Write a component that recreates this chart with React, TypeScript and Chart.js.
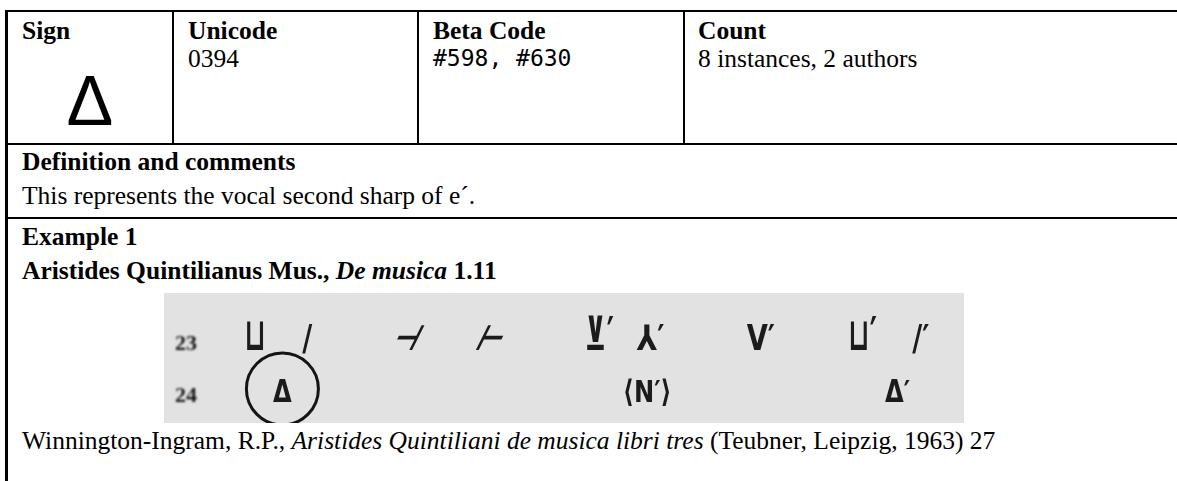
import React, { useEffect, useRef } from "react";
import { Chart, registerables } from "chart.js";

Chart.register(...registerables);

// ---------- document data ----------
const headerLabels = ["Sign", "Unicode", "Beta Code", "Count"];
const signGlyph = "Δ";
const unicodeValue = "0394";
const betaCodeValue = "#598, #630";
const countValue = "8 instances, 2 authors";
const definitionTitle = "Definition and comments";
const definitionText = "This represents the vocal second sharp of e´.";
const exampleTitle = "Example 1";
const sourceAuthor = "Aristides Quintilianus Mus., ";
const sourceWork = "De musica";
const sourcePassage = " 1.11";
const citationAuthor = "Winnington-Ingram, R.P., ";
const citationTitle = "Aristides Quintiliani de musica libri tres";
const citationRest = " (Teubner, Leipzig, 1963) 27";

// ---------- scanned example data (x: % of scan width, line: manuscript line) ----------
const scanLineNumbers = ["23", "24"];
const scanLineNumberX = [2.75, 2.75];
const scanGlyphs = ["⊔", "/", "⊣", "⊢", "⊻′", "⅄′", "V′", "⊔′", "/′", "Δ", "⟨N′⟩", "Δ′"];
const scanGlyphX = [11.4, 17.9, 29.75, 40.25, 54.4, 60.8, 74.6, 87.3, 94.6, 14.8, 60.4, 91.7];
const scanGlyphLine = [23, 23, 23, 23, 23, 23, 23, 23, 23, 24, 24, 24];
const scanCircleX = [14.8];
const scanCircleLine = [23.75];

const slanted = new Set(["⊣", "⊢"]);
const tall = new Set(["⊔", "⊔′", "⊻′"]);

const SERIF = "'Liberation Serif', 'Times New Roman', serif";
const SANS = "'Liberation Sans', Arial, sans-serif";
const MONO = "'DejaVu Sans Mono', monospace";
const FS = 25.5;

type TProps = {
  x: number;
  baseline: number;
  size?: number;
  family?: string;
  asc?: number;
  bold?: boolean;
  children: React.ReactNode;
  width?: number;
  center?: boolean;
};

function T({ x, baseline, size = FS, family = SERIF, asc = 0.8375, bold, children, width, center }: TProps) {
  return (
    <div
      style={{
        position: "absolute",
        left: x,
        top: baseline - asc * size,
        fontSize: size,
        lineHeight: `${size}px`,
        fontFamily: family,
        fontWeight: bold ? 700 : 400,
        whiteSpace: "nowrap",
        width: width,
        textAlign: center ? "center" : "left",
        color: "#000",
      }}
    >
      {children}
    </div>
  );
}

function Rule({ x, y, w, h }: { x: number; y: number; w: number; h: number }) {
  return <div style={{ position: "absolute", left: x, top: y, width: w, height: h, background: "#000" }} />;
}

function ScanChart() {
  const ref = useRef<HTMLCanvasElement | null>(null);
  useEffect(() => {
    if (!ref.current) return;
    const glyphPoints = scanGlyphs.map((g, i) => ({ x: scanGlyphX[i], y: scanGlyphLine[i], label: g }));
    const numberPoints = scanLineNumbers.map((n, i) => ({ x: scanLineNumberX[i], y: Number(n), label: n }));
    const circlePoints = scanCircleX.map((x, i) => ({ x, y: scanCircleLine[i] }));

    const textPlugin = {
      id: "scanText",
      beforeDraw(chart: any) {
        const { ctx, width, height } = chart;
        ctx.save();
        ctx.fillStyle = "#e2e2e2";
        ctx.fillRect(0, 0, width, height);
        ctx.restore();
      },
      afterDatasetsDraw(chart: any) {
        const ctx = chart.ctx;
        [0, 1].forEach((di) => {
          const meta = chart.getDatasetMeta(di);
          const ds = chart.data.datasets[di];
          meta.data.forEach((el: any, i: number) => {
            const p = ds.data[i];
            ctx.save();
            ctx.filter = "blur(0.7px)";
            ctx.textAlign = "center";
            ctx.textBaseline = "alphabetic";
            ctx.translate(el.x, el.y);
            if (di === 0) {
              ctx.fillStyle = "#1b1b1b";
              ctx.font = p.y === 24 ? "bold 31px 'DejaVu Sans'" : "bold 35px 'DejaVu Sans'";
              if (slanted.has(p.label)) ctx.transform(1, 0, -0.5, 1, 0, 0);
              ctx.scale(0.78, tall.has(p.label) ? 1.3 : 1);
            } else {
              ctx.fillStyle = "#151515";
              ctx.filter = "blur(0.9px)";
              ctx.font = "bold 22px 'Liberation Serif'";
            }
            ctx.fillText(p.label, 0, 0);
            ctx.restore();
          });
        });
      },
    };

    const chart = new Chart(ref.current, {
      type: "scatter",
      data: {
        datasets: [
          { data: glyphPoints as any, pointRadius: 0, pointHoverRadius: 0 },
          { data: numberPoints as any, pointRadius: 0, pointHoverRadius: 0 },
          {
            data: circlePoints as any,
            pointRadius: 36,
            pointHoverRadius: 36,
            pointBackgroundColor: "rgba(0,0,0,0)",
            pointBorderColor: "#141414",
            pointBorderWidth: 3,
            clip: false,
          },
        ],
      },
      options: {
        responsive: false,
        maintainAspectRatio: false,
        animation: false,
        events: [],
        layout: { padding: 0, autoPadding: false },
        plugins: { legend: { display: false }, tooltip: { enabled: false } },
        scales: {
          x: { type: "linear", min: 0, max: 100, display: false },
          y: { type: "linear", min: 21.905, max: 24.405, reverse: true, display: false },
        },
      },
      plugins: [textPlugin],
    });
    return () => chart.destroy();
  }, []);
  return (
    <canvas
      ref={ref}
      width={800}
      height={130}
      style={{ position: "absolute", left: 164, top: 293, width: 800, height: 130 }}
    />
  );
}

export default function App() {
  const colX = [22, 188, 433, 698];
  return (
    <div
      style={{
        position: "absolute",
        left: 0,
        top: 0,
        width: 1177,
        height: 481,
        background: "#fff",
        overflow: "hidden",
      }}
    >
      {/* borders */}
      <Rule x={5} y={10} w={1172} h={2} />
      <Rule x={5} y={10} w={3} h={471} />
      <Rule x={172} y={12} w={2} h={131} />
      <Rule x={417} y={12} w={2} h={131} />
      <Rule x={683} y={12} w={2} h={131} />
      <Rule x={5} y={143} w={1172} h={2} />
      <Rule x={5} y={217} w={1172} h={2} />

      {/* header row */}
      {headerLabels.map((h, i) => (
        <T key={h} x={colX[i]} baseline={39} bold>
          {h}
        </T>
      ))}
      <T x={8} width={164} center baseline={125} size={70} family={SANS} asc={0.8465}>
        {signGlyph}
      </T>
      <T x={colX[1]} baseline={67}>{unicodeValue}</T>
      <T x={colX[2]} baseline={66} size={23} family={MONO} asc={0.846}>
        {betaCodeValue}
      </T>
      <T x={colX[3]} baseline={67}>{countValue}</T>

      {/* definition */}
      <T x={22} baseline={170} bold>
        {definitionTitle}
      </T>
      <T x={22} baseline={204}>{definitionText}</T>

      {/* example */}
      <T x={22} baseline={245} bold>
        {exampleTitle}
      </T>
      <T x={22} baseline={279} bold>
        {sourceAuthor}
        <i>{sourceWork}</i>
        {sourcePassage}
      </T>

      <ScanChart />

      <T x={22} baseline={449}>
        {citationAuthor}
        <i>{citationTitle}</i>
        {citationRest}
      </T>
    </div>
  );
}
